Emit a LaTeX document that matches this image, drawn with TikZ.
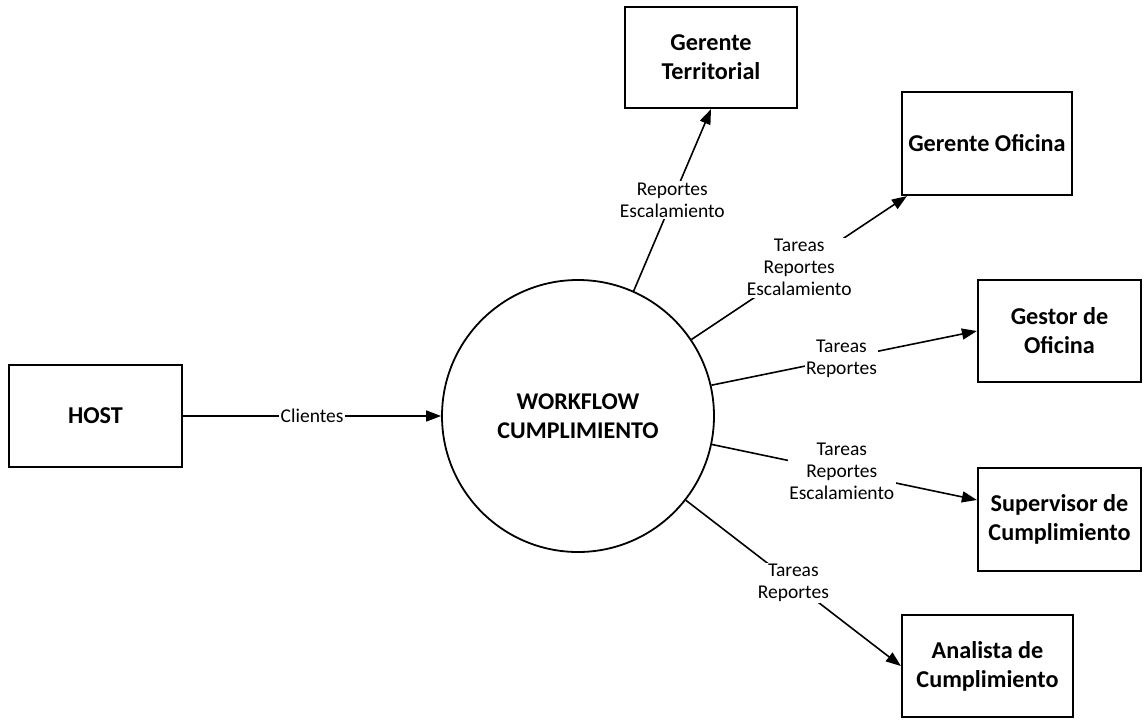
\documentclass[tikz,border=0pt]{standalone}
\usepackage{fontspec}
\setmainfont{Carlito}
\usetikzlibrary{arrows.meta,calc}
\tikzset{
  box/.style={draw, line width=2.2pt, inner sep=2pt, align=center, font=\fontsize{24.2}{29}\selectfont\bfseries},
  proc/.style={draw, circle, line width=1.8pt, minimum size=272pt, inner sep=0pt, align=center, font=\fontsize{24}{29}\selectfont\bfseries},
  flow/.style={line width=1.6pt, -{Triangle[length=15pt,width=11pt]}},
  lbl/.style={fill=white, inner sep=1.5pt, align=center, font=\fontsize{19.5}{22}\selectfont}
}
\begin{document}
\begin{tikzpicture}[x=1pt,y=-1pt]
\useasboundingbox (0,0) rectangle (1145,720);
\fill[white] (0,0) rectangle (1145,720);
% nodes
\node[box, minimum width=173pt, minimum height=102pt] (host) at (95.5,416) {HOST};
\node[proc] (wf) at (578,416) {WORKFLOW\\CUMPLIMIENTO};
\node[box, minimum width=172pt, minimum height=101pt] (gt) at (711,57.5) {Gerente\\Territorial};
\node[box, minimum width=170pt, minimum height=103pt] (go) at (987,143.5) {Gerente Oficina};
\node[box, minimum width=163pt, minimum height=102pt] (gs) at (1059.5,331) {Gestor de\\Oficina};
\node[box, minimum width=163pt, minimum height=103pt] (sup) at (1059.5,519.5) {Supervisor de\\Cumplimiento};
\node[box, minimum width=171pt, minimum height=102pt] (an) at (987.5,666) {Analista de\\Cumplimiento};
% connectors
\draw[flow] (host.east) -- node[lbl] {Clientes} (wf.west);
\draw[flow] (wf.66.8) -- node[lbl] {Reportes\\Escalamiento} (gt.south);
\draw[flow] (wf.34.7) -- node[lbl] {Tareas\\Reportes\\Escalamiento} ($(go.south west)+(6,0)$);
\draw[flow] (wf.13) -- node[lbl, pos=0.49] {Tareas\\Reportes} (gs.west);
\draw[flow] (wf.-12.2) -- node[lbl, pos=0.49] {Tareas\\Reportes\\Escalamiento} ($(sup.west)+(0,-19.5)$);
\draw[flow] (wf.-38.8) -- node[lbl] {Tareas\\Reportes} (an.west);
\end{tikzpicture}
\end{document}
